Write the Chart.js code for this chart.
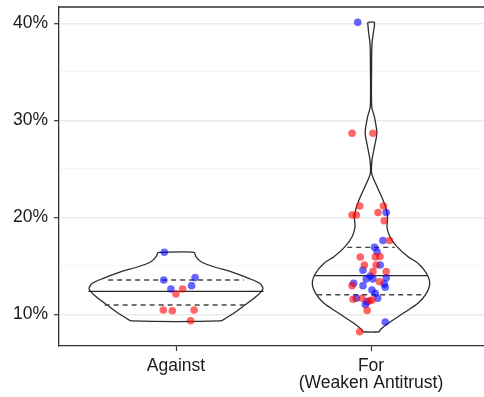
<!DOCTYPE html>
<html>
<head>
<meta charset="utf-8">
<script src="https://cdn.jsdelivr.net/npm/chart.js@4.4.1/dist/chart.umd.min.js"></script>
<style>
  html, body { margin: 0; padding: 0; background: #fff; }
  #wrap { width: 484px; height: 397px; overflow: hidden; }
</style>
</head>
<body>
<div id="wrap"><canvas id="violin" width="492" height="397"></canvas></div>
<script>
'use strict'

// categories on the x axis (1 = Against, 2 = For)
let categories = ['Against', ['For', '(Weaken Antitrust)']]

// violin outlines: level (%) and half width (in category units)
let againstLevels = [16.39, 15.94, 15.42, 14.9, 14.4, 13.71, 13.2, 12.68, 12.16, 11.47, 10.78, 10.1, 9.59, 9.31]
let againstWidth = [0.092, 0.102, 0.128, 0.194, 0.281, 0.372, 0.429, 0.446, 0.429, 0.388, 0.342, 0.296, 0.255, 0.230]

let forLevels = [40.1, 39.0, 37.9, 35.5, 31.4, 30.4, 28.7, 27.3, 25.9, 24.5, 23.2, 21.8, 20.75, 19.9, 19.0, 18.0, 16.97, 15.94, 15.26, 14.23, 13.2, 12.16, 11.13, 10.1, 9.07, 8.38, 8.2]
let forWidth = [0.017, 0.012, 0.005, 0.003, 0.0036, 0.017, 0.030, 0.018, 0.005, 0.0036, 0.030, 0.061, 0.079, 0.085, 0.082, 0.097, 0.133, 0.190, 0.241, 0.284, 0.301, 0.284, 0.241, 0.165, 0.088, 0.046, 0.042]

// quartiles (25%, 50%, 75%) and the violin half width there
let againstQuant = [10.96, 12.37, 13.54]
let againstQuantWidth = [0.366, 0.449, 0.348]
let forQuant = [12.02, 13.98, 16.9]
let forQuantWidth = [0.276, 0.291, 0.122]

// jittered points: value (%), jitter (category units), party
let againstVals = [16.39, 13.54, 13.78, 12.61, 12.95, 12.61, 12.09, 10.44, 10.37, 10.44, 9.34]
let againstJit = [-0.060, -0.063, 0.098, -0.026, 0.080, 0.034, 0.000, -0.065, -0.019, 0.093, 0.075]
let againstParty = ['D', 'D', 'D', 'D', 'D', 'R', 'R', 'R', 'R', 'R', 'R']

let forVals = [40.1, 28.66, 28.66, 21.16, 20.24, 20.24, 21.16, 20.5, 20.5, 19.65,
    17.6, 17.6, 16.9, 16.45, 15.9, 15.9, 15.95, 15.08, 15.08, 15.08,
    14.55, 14.4, 14.4, 13.95, 13.65, 13.65, 13.75, 13.36, 13.2, 12.95,
    12.95, 13.12, 12.78, 12.5, 12.16, 11.65, 11.55, 11.65, 11.65, 11.3,
    11.4, 11.47, 11.0, 10.4, 9.2, 8.2]
let forJit = [-0.068, -0.097, 0.010, -0.058, -0.097, -0.075, 0.064, 0.036, 0.078, 0.068,
    0.061, 0.095, 0.018, 0.031, -0.055, 0.022, 0.046, -0.034, 0.027, 0.047,
    -0.041, 0.010, 0.078, -0.004, -0.024, 0.010, 0.078, 0.044, -0.089, -0.097,
    -0.041, 0.068, 0.073, 0.005, 0.022, 0.034, -0.092, -0.075, -0.046, -0.020,
    -0.007, 0.005, -0.029, -0.020, 0.073, -0.058]
let forParty = ['D', 'R', 'R', 'R', 'R', 'R', 'R', 'R', 'D', 'R',
    'D', 'R', 'D', 'D', 'R', 'R', 'R', 'R', 'R', 'D',
    'D', 'R', 'R', 'D', 'D', 'D', 'D', 'R', 'D', 'R',
    'D', 'D', 'D', 'D', 'D', 'D', 'R', 'D', 'R', 'D',
    'R', 'R', 'D', 'R', 'D', 'R']

let yTicks = [10, 15, 20, 25, 30, 35, 40]

function outline(c, levels, widths){
    let right = levels.map((v, i) => ({x: c + widths[i], y: v}))
    let left = levels.map((v, i) => ({x: c - widths[i], y: v})).reverse()
    return [{x: c - widths[0], y: levels[0]}, ...right, ...left]
}

function quantLines(c, q, w, idx){
    let out = []
    idx.forEach(i => {
        out.push({x: c - w[i], y: q[i]}, {x: c + w[i], y: q[i]}, {x: null, y: null})
    })
    return out
}

function pointsFor(party){
    let pts = []
    againstVals.forEach((v, i) => { if (againstParty[i] === party) pts.push({x: 1 + againstJit[i], y: v}) })
    forVals.forEach((v, i) => { if (forParty[i] === party) pts.push({x: 2 + forJit[i], y: v}) })
    return pts
}

let lineStyle = {showLine: true, pointRadius: 0, borderColor: '#2b2b2b', borderWidth: 1.3, fill: false}

let borderPlugin = {
    id: 'panelBorder',
    afterDraw(chart){
        let a = chart.chartArea
        let c = chart.ctx
        c.save()
        c.strokeStyle = '#333333'
        c.lineWidth = 1.3
        c.beginPath()
        c.moveTo(a.left, a.top)
        c.lineTo(a.right, a.top)
        c.lineTo(a.right, a.bottom)
        c.stroke()
        c.restore()
    }
}

// no extra room for labels that stick out of the axes
function noPad(s){
    s.paddingTop = 0
    s.paddingBottom = 0
    s.paddingLeft = 0
    s.paddingRight = 0
}

let font = {family: '"Liberation Sans", Arial, sans-serif', size: 17.5, lineHeight: 0.95}

let ctx = document.getElementById('violin').getContext('2d')

var violinChart = new Chart(ctx, {
    type: 'scatter',
    data: {
        datasets: [
            {data: pointsFor('R'), backgroundColor: 'rgba(255,0,0,0.6)', borderWidth: 0, pointRadius: 3.8, order: 0},
            {data: pointsFor('D'), backgroundColor: 'rgba(0,0,255,0.6)', borderWidth: 0, pointRadius: 3.8, order: 1},
            Object.assign({data: outline(1, againstLevels, againstWidth), tension: 0.25, order: 3}, lineStyle),
            Object.assign({data: outline(2, forLevels, forWidth), tension: 0.25, order: 3}, lineStyle),
            Object.assign({data: quantLines(1, againstQuant, againstQuantWidth, [1]), spanGaps: false, order: 2}, lineStyle),
            Object.assign({data: quantLines(2, forQuant, forQuantWidth, [1]), spanGaps: false, order: 2}, lineStyle),
            Object.assign({data: quantLines(1, againstQuant, againstQuantWidth, [0, 2]), spanGaps: false, borderDash: [5, 4], order: 2}, lineStyle, {borderColor: '#444444', borderWidth: 1.4}),
            Object.assign({data: quantLines(2, forQuant, forQuantWidth, [0, 2]), spanGaps: false, borderDash: [5, 4], order: 2}, lineStyle, {borderColor: '#444444', borderWidth: 1.4})
        ]
    },
    options: {
        responsive: false,
        animation: false,
        devicePixelRatio: 1,
        layout: {padding: {top: 7, left: 0, right: 2, bottom: 0}},
        plugins: {legend: {display: false}, tooltip: {enabled: false}},
        scales: {
            x: {
                type: 'linear',
                min: 0.4,
                max: 2.6,
                afterBuildTicks: s => { s.ticks = [{value: 1}, {value: 2}] },
                afterFit: s => { s.height = 51; noPad(s) },
                ticks: {
                    color: '#1a1a1a',
                    font: font,
                    padding: 7,
                    maxRotation: 0,
                    autoSkip: false,
                    callback: v => categories[Math.round(v) - 1]
                },
                grid: {drawOnChartArea: false, tickLength: 5, tickColor: '#333333', tickWidth: 1.2},
                border: {color: '#333333', width: 1.3}
            },
            y: {
                min: 6.73,
                max: 41.68,
                afterBuildTicks: s => { s.ticks = yTicks.map(v => ({value: v})) },
                afterFit: s => { s.width = 59; noPad(s) },
                ticks: {
                    color: '#1a1a1a',
                    font: font,
                    padding: 6,
                    autoSkip: false,
                    callback: v => (v % 10 === 0 ? v + '%' : '')
                },
                grid: {
                    color: c => (c.tick && c.tick.value % 10 === 0 ? '#EBEBEB' : '#F3F3F3'),
                    lineWidth: c => (c.tick && c.tick.value % 10 === 0 ? 1.4 : 0.8),
                    tickColor: c => (c.tick && c.tick.value % 10 === 0 ? '#333333' : 'rgba(0,0,0,0)'),
                    tickLength: 5,
                    tickWidth: 1.2
                },
                border: {color: '#333333', width: 1.3}
            }
        }
    },
    plugins: [borderPlugin]
})
</script>
</body>
</html>
